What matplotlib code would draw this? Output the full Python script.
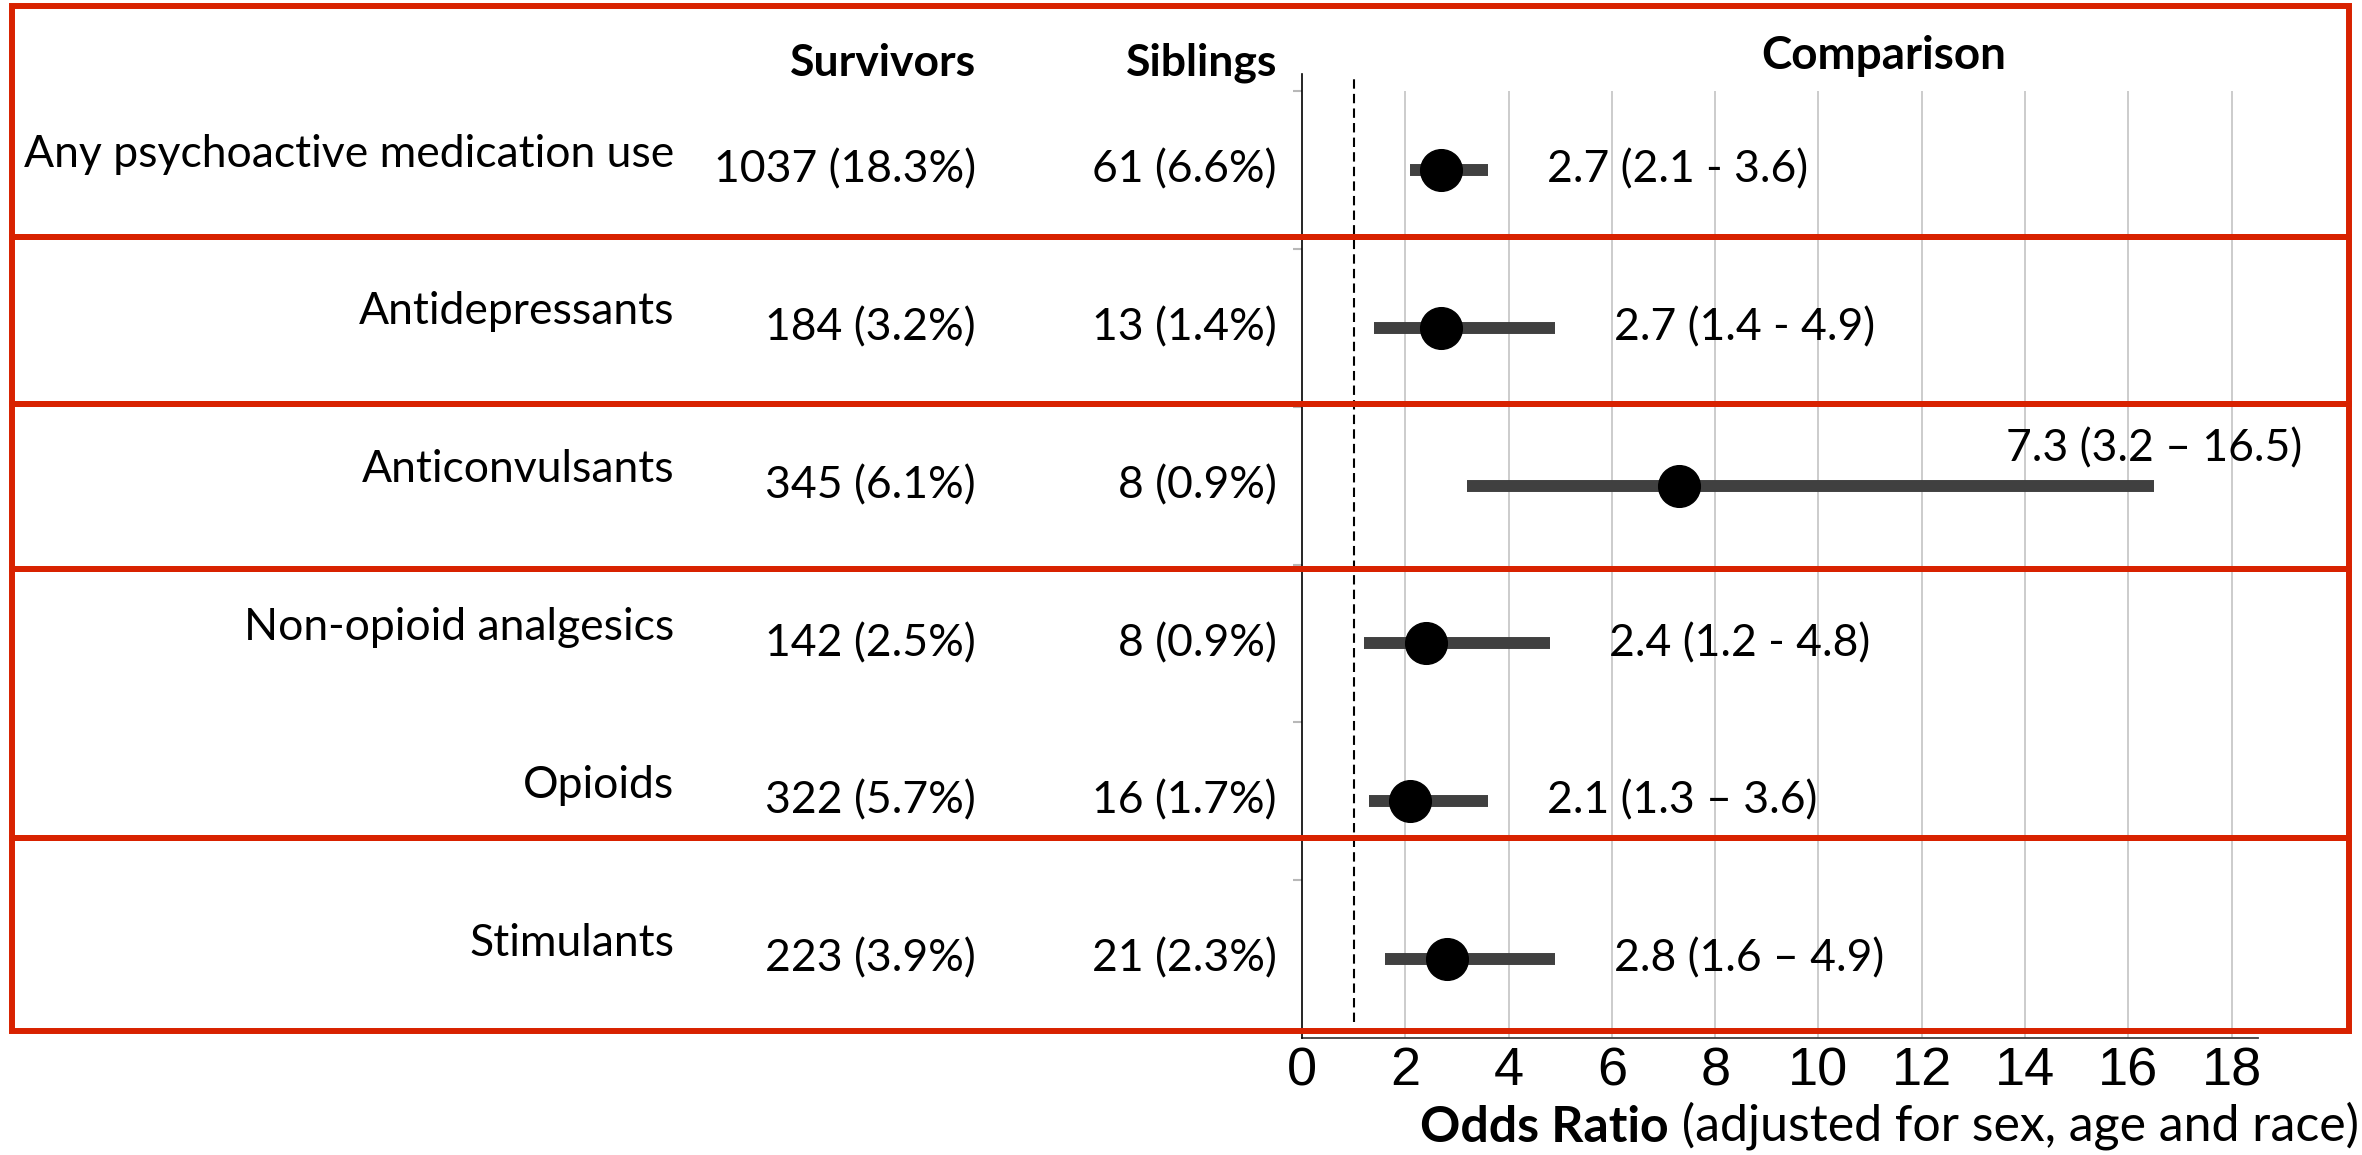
import matplotlib.pyplot as plt
import matplotlib.transforms as mtransforms
from matplotlib.patches import Rectangle

# Table values
medications = ['Any psychoactive medication use', 'Antidepressants', 'Anticonvulsants',
               'Non-opioid analgesics', 'Opioids', 'Stimulants']
survivors = ['1037 (18.3%)', '184 (3.2%)', '345 (6.1%)', '142 (2.5%)', '322 (5.7%)', '223 (3.9%)']
siblings = ['61 (6.6%)', '13 (1.4%)', '8 (0.9%)', '8 (0.9%)', '16 (1.7%)', '21 (2.3%)']

# Odds ratios with 95% CI
odds_ratio = [2.7, 2.7, 7.3, 2.4, 2.1, 2.8]
ci_low = [2.1, 1.4, 3.2, 1.2, 1.3, 1.6]
ci_high = [3.6, 4.9, 16.5, 4.8, 3.6, 4.9]
ci_sep = ['-', '-', '\u2013', '-', '\u2013', '\u2013']

xticks = [0, 2, 4, 6, 8, 10, 12, 14, 16, 18]

W, H = 2362, 1155
txt_font = 'Lato'
txt_size = 32
red = '#d82200'


def fx(px):
    return px / W


def fy(py):
    return 1 - py / H


fig = plt.figure(figsize=(W / 100, H / 100), dpi=100)
ax = fig.add_axes([fx(1302), fy(1038), fx(955.5), 947 / H])

rows = list(range(len(medications)))

# grid, reference line, CI bars and points
for g in xticks[1:]:
    ax.axvline(g, color='#cccccc', lw=1.4, zorder=0)
ax.plot([1, 1], [5.4, -0.576], color='black', lw=1.5, ls=(0, (4.5, 2.5)),
        clip_on=False, zorder=1)
ax.hlines(rows, ci_low, ci_high, color='#404040', lw=8.6, zorder=2)
ax.plot(odds_ratio, rows, 'o', color='black', ms=30, zorder=3)

for i in rows:
    label = '%.1f (%.1f %s %.1f)' % (odds_ratio[i], ci_low[i], ci_sep[i], ci_high[i])
    if ci_high[i] > 10:
        ax.text(ci_high[i] + 2.86, i - 0.23, label, ha='right', va='center',
                fontsize=txt_size, family=txt_font, clip_on=False)
    else:
        ax.text(ci_high[i] + 1.15, i, label, ha='left', va='center',
                fontsize=txt_size, family=txt_font)

ax.set_xlim(0, 18.5)
ax.set_ylim(5.5, -0.5)
ax.set_xticks(xticks)
ax.set_xticklabels([str(t) for t in xticks], family='Liberation Sans', fontsize=39)
ax.tick_params(axis='x', length=0, pad=6)
ax.set_yticks([r - 0.5 for r in rows])
ax.set_yticklabels([])
ax.tick_params(axis='y', length=6.5, width=1.5, color='#b8b8b8')
for s in ['top', 'right', 'left']:
    ax.spines[s].set_visible(False)
ax.spines['bottom'].set_color('#404040')
ax.spines['bottom'].set_linewidth(1.3)
# y axis line reaches a little above the plot area
ax.plot([0, 0], [5.5, -0.608], color='black', lw=1.2, clip_on=False, zorder=4)

# table columns on the left
trans = mtransforms.blended_transform_factory(fig.transFigure, ax.transData)
for i in rows:
    fig.text(fx(674), i - 0.1, medications[i], transform=trans, ha='right', va='center',
             fontsize=txt_size, family=txt_font)
    fig.text(fx(976), i, survivors[i], transform=trans, ha='right', va='center',
             fontsize=txt_size, family=txt_font)
    fig.text(fx(1277), i, siblings[i], transform=trans, ha='right', va='center',
             fontsize=txt_size, family=txt_font)

fig.text(fx(976), fy(63), 'Survivors', ha='right', va='center', fontsize=txt_size,
         family=txt_font, weight='bold')
fig.text(fx(1277), fy(63), 'Siblings', ha='right', va='center', fontsize=txt_size,
         family=txt_font, weight='bold')
fig.text(fx(1884), fy(56), 'Comparison', ha='center', va='center', fontsize=33,
         family=txt_font, weight='bold')

t1 = fig.text(fx(1420), fy(1128), 'Odds Ratio', ha='left', va='center', fontsize=36,
              family=txt_font, weight='bold')
ax.annotate(' (adjusted for sex, age and race)', xy=(1, 0), xycoords=t1, va='bottom',
            ha='left', fontsize=36, family=txt_font, annotation_clip=False)

# red row boxes
borders = [6, 237, 404, 569, 838, 1031]
for top, bottom in zip(borders[:-1], borders[1:]):
    fig.patches.append(Rectangle((fx(12), fy(bottom)), fx(2349 - 12), (bottom - top) / H,
                                 transform=fig.transFigure, fill=False, edgecolor=red,
                                 lw=4.3, zorder=10))

fig.savefig('out.png', dpi=100)
